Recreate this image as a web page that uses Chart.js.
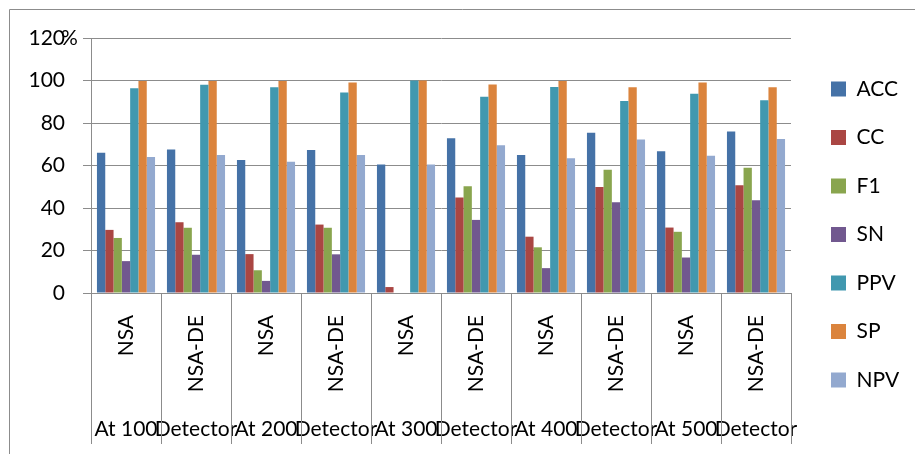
<!DOCTYPE html>
<html><head><meta charset="utf-8">
<script src="https://cdn.jsdelivr.net/npm/chart.js@4/dist/chart.umd.min.js"></script>
<style>html,body{margin:0;padding:0;background:#fff}#wrap{width:915px;height:454px;position:relative}</style>
</head><body><div id="wrap"><canvas id="c" width="915" height="454"></canvas></div>
<script>
// ---- data ----
const methods = ['NSA','NSA-DE','NSA','NSA-DE','NSA','NSA-DE','NSA','NSA-DE','NSA','NSA-DE'];
const detectorLabels = ['At 100','Detector','At 200','Detector','At 300','Detector','At 400','Detector','At 500','Detector'];
const seriesNames = ['ACC','CC','F1','SN','PPV','SP','NPV'];
const acc = [66.0, 67.5, 62.6, 67.3, 60.5, 72.8, 64.9, 75.4, 66.7, 76.0];
const cc  = [29.7, 33.3, 18.3, 32.2, 2.8, 45.0, 26.5, 49.9, 30.8, 50.7];
const f1  = [25.9, 30.7, 10.7, 30.7, 0, 50.2, 21.5, 58.0, 28.8, 58.9];
const sn  = [15.0, 18.0, 5.7, 18.2, 0, 34.4, 11.7, 42.7, 16.7, 43.6];
const ppv = [96.4, 98.0, 96.8, 94.3, 100, 92.4, 97.0, 90.4, 93.8, 90.7];
const sp  = [99.8, 99.8, 99.8, 99.1, 100, 98.1, 99.8, 96.8, 99.1, 96.8];
const npv = [64.0, 64.9, 61.8, 64.9, 60.5, 69.5, 63.4, 72.2, 64.6, 72.5];
const yTicks = [0, 20, 40, 60, 80, 100, 120];
const yUnit = '%';

// ---- styles ----
const series = [acc, cc, f1, sn, ppv, sp, npv];
const colors = ['#4572A7','#AA4643','#89A54E','#71588F','#4198AF','#DB843D','#93A9CF'];
const GRAY = '#8c8c8c';
const FS = 21;
const LEG_PAD = 27.5;
Chart.defaults.font.family = 'Lato';
Chart.defaults.color = '#000';

const deco = {
  id: 'deco',
  beforeLayout(chart) {
    const lg = chart.legend;
    if (lg && !lg._patched) {
      const f = lg.fit.bind(lg);
      lg.fit = function () { f(); this.width = 124; };
      lg._patched = true;
    }
  },
  afterLayout(chart) {
    const lg = chart.legend;
    if (lg) {
      lg.left = 831 - LEG_PAD;
      lg.right = 915;
      lg.width = lg.right - lg.left;
    }
  },
  beforeDraw(chart) {
    const c = chart.ctx;
    c.save();
    c.strokeStyle = GRAY; c.lineWidth = 1;
    c.beginPath();
    c.moveTo(9.5, 454); c.lineTo(9.5, 9.5); c.lineTo(915, 9.5);
    c.stroke();
    c.restore();
  },
  afterDraw(chart) {
    const c = chart.ctx;
    const xs = chart.scales.x;
    const ys = chart.scales.y;
    c.save();
    c.strokeStyle = GRAY; c.lineWidth = 1;
    const n = methods.length;
    for (let i = 0; i <= n; i++) {
      const px = Math.round(xs.left + i * (xs.width / n)) + 0.5;
      c.beginPath();
      c.moveTo(px, chart.chartArea.bottom);
      c.lineTo(px, 444);
      c.stroke();
    }
    c.fillStyle = '#000';
    c.font = FS + 'px Lato';
    c.textAlign = 'left'; c.textBaseline = 'middle';
    c.fillText(yUnit, 61, ys.getPixelForValue(yTicks[yTicks.length - 1]));
    c.restore();
  }
};

new Chart(document.getElementById('c'), {
  type: 'bar',
  data: {
    labels: methods,
    datasets: series.map((s, i) => ({
      label: seriesNames[i], data: s, backgroundColor: colors[i], borderWidth: 0,
      categoryPercentage: 0.83, barPercentage: 1.0, xAxisID: 'x', yAxisID: 'y'
    }))
  },
  options: {
    responsive: false, animation: false, devicePixelRatio: 1,
    layout: { padding: { top: 15, bottom: 0, left: 0, right: 0 } },
    plugins: {
      title: { display: true, text: ' ', fullSize: false, font: { size: 10 }, padding: { top: 0, bottom: 11 } },
      legend: { position: 'right', labels: { boxWidth: 15, boxHeight: 15, padding: LEG_PAD, font: { size: FS }, color: '#000' } },
      tooltip: { enabled: false }
    },
    scales: {
      y: {
        min: 0, max: 120,
        afterBuildTicks: s => { s.ticks = yTicks.map(v => ({ value: v })); },
        ticks: { padding: 18, font: { size: FS } },
        grid: { color: GRAY, tickLength: 8, drawTicks: true },
        border: { color: GRAY },
        afterFit: s => { s.width = 91; }
      },
      x: {
        position: 'bottom', offset: true,
        grid: { display: false, offset: true },
        border: { color: GRAY },
        ticks: { minRotation: 90, maxRotation: 90, autoSkip: false, padding: 14, font: { size: FS } },
        afterFit: s => { s.height = 101; }
      },
      x2: {
        type: 'category', position: 'bottom', offset: true, labels: detectorLabels,
        grid: { display: false }, border: { display: false },
        ticks: { minRotation: 0, maxRotation: 0, autoSkip: false, padding: 15, font: { size: FS } },
        afterFit: s => { s.height = 60; }
      }
    }
  },
  plugins: [deco]
});
</script>
</body></html>
